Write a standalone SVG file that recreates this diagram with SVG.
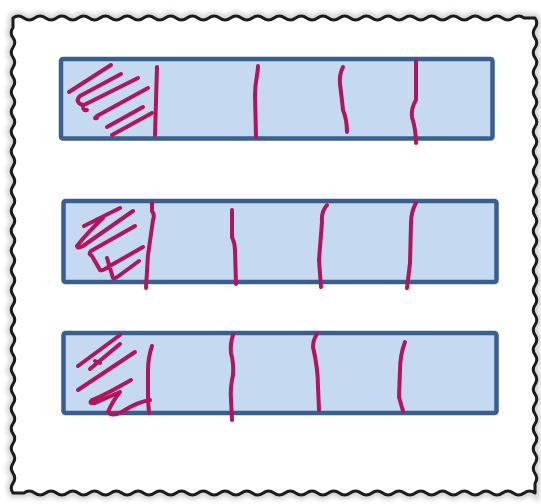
<svg xmlns="http://www.w3.org/2000/svg" width="541" height="504" viewBox="0 0 541 504">
<style>
.box{fill:#c5d9f0;stroke:#3a5f8e;stroke-width:4.5;}
.ink{fill:none;stroke:#b2145f;stroke-width:4;stroke-linecap:round;stroke-linejoin:round;}
.frame{fill:none;stroke:#1c1c1c;stroke-width:3;stroke-linejoin:round;}
.shadow{fill:none;stroke:#8a8a8a;stroke-width:9;opacity:0.4;}
</style>
<defs>
<filter id="blur" x="-5%" y="-5%" width="110%" height="110%"><feGaussianBlur stdDeviation="2.5"/></filter>
<filter id="soft" x="-2%" y="-2%" width="104%" height="104%"><feGaussianBlur stdDeviation="0.5"/></filter>
<path id="wave" d="M13,18 q5.44,-4 10.875,0 t10.875,0 10.875,0 10.875,0 10.875,0 10.875,0 10.875,0 10.875,0 10.875,0 10.875,0 10.875,0 10.875,0 10.875,0 10.875,0 10.875,0 10.875,0 10.875,0 10.875,0 10.875,0 10.875,0 10.875,0 10.875,0 10.875,0 10.875,0 10.875,0 10.875,0 10.875,0 10.875,0 10.875,0 10.875,0 10.875,0 10.875,0 10.875,0 10.875,0 10.875,0 10.875,0 10.875,0 10.875,0 10.875,0 10.875,0 10.875,0 10.875,0 10.875,0 10.875,0 10.875,0 10.875,0 10.875,0 L535,18 q3.5,4.95 0,9.9 t0,9.9 0,9.9 0,9.9 0,9.9 0,9.9 0,9.9 0,9.9 0,9.9 0,9.9 0,9.9 0,9.9 0,9.9 0,9.9 0,9.9 0,9.9 0,9.9 0,9.9 0,9.9 0,9.9 0,9.9 0,9.9 0,9.9 0,9.9 0,9.9 0,9.9 0,9.9 0,9.9 0,9.9 0,9.9 0,9.9 0,9.9 0,9.9 0,9.9 0,9.9 0,9.9 0,9.9 0,9.9 0,9.9 0,9.9 0,9.9 0,9.9 0,9.9 0,9.9 0,9.9 0,9.9 0,9.9 L535,493 q-5.44,-4 -10.875,0 t-10.875,0 -10.875,0 -10.875,0 -10.875,0 -10.875,0 -10.875,0 -10.875,0 -10.875,0 -10.875,0 -10.875,0 -10.875,0 -10.875,0 -10.875,0 -10.875,0 -10.875,0 -10.875,0 -10.875,0 -10.875,0 -10.875,0 -10.875,0 -10.875,0 -10.875,0 -10.875,0 -10.875,0 -10.875,0 -10.875,0 -10.875,0 -10.875,0 -10.875,0 -10.875,0 -10.875,0 -10.875,0 -10.875,0 -10.875,0 -10.875,0 -10.875,0 -10.875,0 -10.875,0 -10.875,0 -10.875,0 -10.875,0 -10.875,0 -10.875,0 -10.875,0 -10.875,0 -10.875,0 L13,493 q-3.5,-4.95 0,-9.9 t0,-9.9 0,-9.9 0,-9.9 0,-9.9 0,-9.9 0,-9.9 0,-9.9 0,-9.9 0,-9.9 0,-9.9 0,-9.9 0,-9.9 0,-9.9 0,-9.9 0,-9.9 0,-9.9 0,-9.9 0,-9.9 0,-9.9 0,-9.9 0,-9.9 0,-9.9 0,-9.9 0,-9.9 0,-9.9 0,-9.9 0,-9.9 0,-9.9 0,-9.9 0,-9.9 0,-9.9 0,-9.9 0,-9.9 0,-9.9 0,-9.9 0,-9.9 0,-9.9 0,-9.9 0,-9.9 0,-9.9 0,-9.9 0,-9.9 0,-9.9 0,-9.9 0,-9.9 0,-9.9 Z"/>
</defs>
<rect width="541" height="504" fill="#ffffff"/>
<g id="frame">
<use href="#wave" class="shadow" filter="url(#blur)"/>
<use href="#wave" fill="#ffffff"/>
<use href="#wave" class="frame" filter="url(#soft)"/>
</g>
<g id="bar1">
<rect class="box" x="61" y="59" width="431.5" height="79.5" rx="2"/>
<path class="ink" d="M111,65 L69,92 M121,74 L80,96 Q76,100 79,103 Q82,106 86,104 L138,78 M83,106 Q83,111 87,110 M148,88 L97,116 Q93,119 97,118 M143,107 L107,127 M152,113 L112,135"/>
<path class="ink" d="M157,67 Q156,100 155,135"/>
<path class="ink" d="M258,66 C258,75 255,80 255,95 L256,137"/>
<path class="ink" d="M343,67 Q339,75 340,84 Q342,100 343,110 Q347,120 347,132"/>
<path class="ink" d="M416,61 L416,100 Q411,108 412,117 Q416,130 416,143"/>
</g>
<g id="bar2">
<rect class="box" x="63.5" y="201" width="433" height="81" rx="2"/>
<path class="ink" d="M84,226 L120,208 M103,218 Q88,232 77,246 Q78,249 83,246 L133,211 M135,226 L91,251 Q88,254 92,256 L100,270 Q103,271 108,267 L143,247 M107,258 L113,278 Q115,279 120,275 L139,261"/>
<path class="ink" d="M152,203 L152,211 Q155,215 153,220 L148,255 L146,288"/>
<path class="ink" d="M232,210 L232,237 Q235,243 235,250 L236,284"/>
<path class="ink" d="M327,205 Q321,212 322,222 L319,260 L321,287"/>
<path class="ink" d="M416,203 Q411,212 411,223 L410,263 L407,288"/>
</g>
<g id="bar3">
<rect class="box" x="63.5" y="333" width="433" height="80" rx="2"/>
<path class="ink" d="M78,366 L120,335 M90,369 L120,344 M95,361 L100,363 M135,352 L78,390 M131,380 Q105,395 92,400 Q88,404 95,403 L120,392 Q112,402 108,412 Q112,418 125,410 Q138,402 150,400"/>
<path class="ink" d="M152,346 Q148,358 148,370 L148,400 L149,413"/>
<path class="ink" d="M233,335 Q230,344 231,353 Q234,364 233,375 Q230,388 231,400 L232,420"/>
<path class="ink" d="M317,334 Q313,340 313,347 Q318,368 318,387 L319,410"/>
<path class="ink" d="M405,342 Q400,355 400,370 L399,397 L403,411"/>
</g>
</svg>
